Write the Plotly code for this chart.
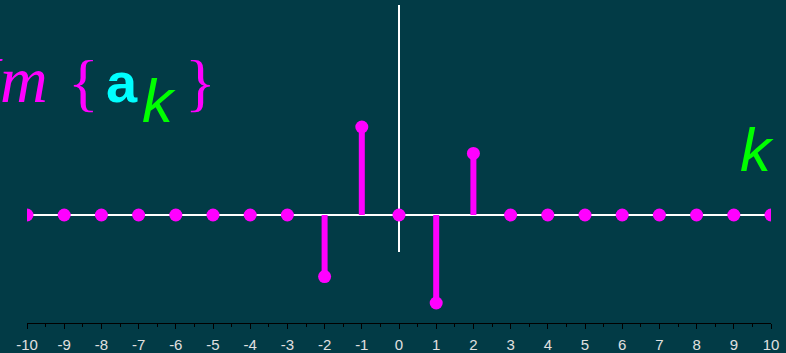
import plotly.graph_objects as go

# ---- data ----
k_values = list(range(-10, 11))
im_ak = [0, 0, 0, 0, 0, 0, 0, 0, -0.7, 1.0, 0, -1.0, 0.7, 0, 0, 0, 0, 0, 0, 0, 0]
tick_vals = list(range(-10, 11))
tick_text = [str(v) for v in tick_vals]

BG = "#023b46"
MAG = "#ff00ff"

W, H = 786, 353
L, R, T, B = 27, 15, 0, 30
PW, PH = W - L - R, H - T - B

def px(x):
    return (x - L) / PW

def py(y):
    return (H - B - y) / PH

# y scale: 0 at pixel 215, 88 px per unit
y0_px = 215
unit = 88
y_top = (y0_px - T) / unit
y_bot = -(H - B - y0_px) / unit

stem_x, stem_y = [], []
for k, v in zip(k_values, im_ak):
    if v != 0:
        stem_x += [k, k, None]
        stem_y += [0, v, None]

fig = go.Figure()
fig.add_trace(go.Scatter(x=stem_x, y=stem_y, mode="lines",
                         line=dict(color=MAG, width=6), hoverinfo="skip"))
fig.add_trace(go.Scatter(x=k_values, y=im_ak, mode="markers",
                         marker=dict(color=MAG, size=13, line=dict(width=0))))

# axis lines
fig.add_shape(type="line", xref="x", yref="y", x0=-10, x1=10, y0=0, y1=0,
              line=dict(color="white", width=2), layer="below")
fig.add_shape(type="line", xref="x", yref="y", x0=0, x1=0,
              y0=(y0_px - 252) / unit, y1=(y0_px - 5) / unit,
              line=dict(color="white", width=2), layer="below")

anns = [
    dict(text="<i>Im</i>", x=px(50), y=py(80), xanchor="right", yanchor="middle",
         font=dict(family="Liberation Serif", size=66, color=MAG)),
    dict(text="{", x=px(66), y=py(82), xanchor="left", yanchor="middle",
         font=dict(family="Liberation Serif", size=64, color=MAG)),
    dict(text="<b>a</b>", x=px(104), y=py(82), xanchor="left", yanchor="middle",
         font=dict(family="Liberation Sans", size=56, color="#00ffff")),
    dict(text="<i>k</i>", x=px(140), y=py(101), xanchor="left", yanchor="middle",
         font=dict(family="Liberation Sans", size=62, color="#00ff00")),
    dict(text="}", x=px(183), y=py(82), xanchor="left", yanchor="middle",
         font=dict(family="Liberation Serif", size=64, color=MAG)),
    dict(text="<i>k</i>", x=px(776), y=py(149), xanchor="right", yanchor="middle",
         font=dict(family="Liberation Sans", size=62, color="#00ff00")),
]
for a in anns:
    a.update(xref="paper", yref="paper", showarrow=False)
    fig.add_annotation(**a)

fig.update_layout(
    width=W, height=H,
    margin=dict(l=L, r=R, t=T, b=B),
    paper_bgcolor=BG, plot_bgcolor=BG,
    showlegend=False,
    xaxis=dict(range=[-10, 10], showgrid=False, zeroline=False,
               showline=True, linecolor="black", linewidth=1,
               ticks="outside", ticklen=5, tickcolor="black", tickwidth=1,
               tickvals=tick_vals, ticktext=tick_text, ticklabelstandoff=3,
               tickfont=dict(family="Liberation Sans", size=15, color="#e0e0e0"),
               minor=dict(ticks="outside", ticklen=3, tickcolor="black", dtick=0.5),
               fixedrange=True),
    yaxis=dict(range=[y_bot, y_top], showgrid=False, zeroline=False,
               showticklabels=False, showline=False, fixedrange=True),
)

fig.write_html("out.html", config={"displayModeBar": False},
               post_script="document.body.style.margin='0';document.body.style.overflow='hidden';document.body.style.background='" + BG + "';")
